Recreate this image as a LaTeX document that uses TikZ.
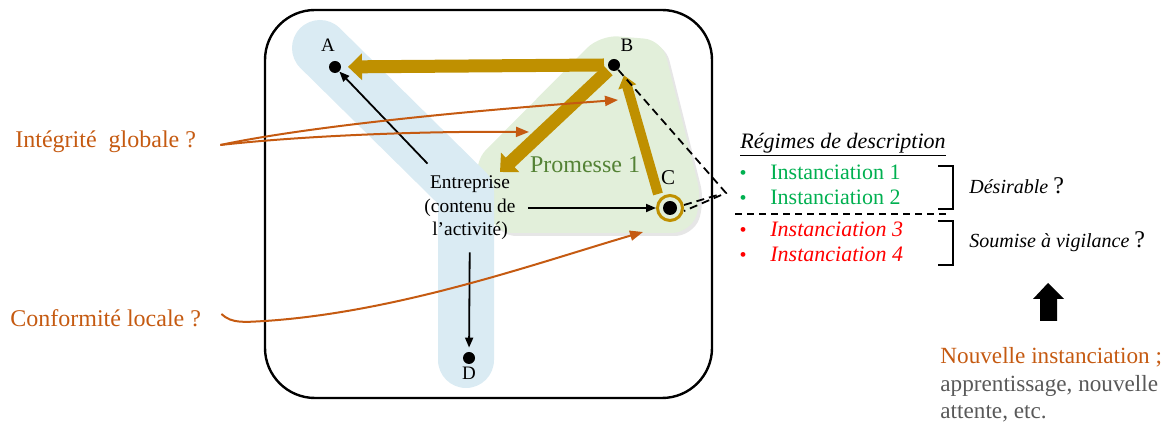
\documentclass[tikz,border=0pt]{standalone}
\usepackage{fontspec}
\setmainfont{Liberation Serif}
\usetikzlibrary{arrows.meta,positioning,shadows}
\definecolor{gold}{HTML}{BF9000}
\definecolor{rust}{HTML}{C55A11}
\definecolor{bandblue}{HTML}{DAEBF3}
\definecolor{promfill}{HTML}{E2EFDA}
\definecolor{promtext}{HTML}{548235}
\definecolor{instgreen}{HTML}{00B050}
\definecolor{instred}{HTML}{FF0000}
\definecolor{notegray}{HTML}{595959}
\tikzset{
  dot/.style={circle, fill=black, inner sep=0pt, minimum size=6pt},
  ring/.style={circle, draw=gold, line width=1.5pt, inner sep=0pt, minimum size=12.5pt},
  ptlabel/.style={font=\fontsize{9.5}{11}\selectfont, inner sep=1pt},
  entbox/.style={align=center, font=\fontsize{9.7}{11.75}\selectfont, inner sep=6pt},
  asklabel/.style={text=rust, font=\fontsize{12}{14}\selectfont, inner sep=2pt, anchor=west},
  regime/.style={font=\fontsize{11}{13}\selectfont, inner sep=1pt, anchor=west},
  bulletmark/.style={font=\fontsize{10}{12}\selectfont, inner sep=1pt, yshift=-1.5pt},
  judgement/.style={font=\fontsize{10}{12}\selectfont\itshape, inner sep=1pt, anchor=west},
  goldarrow/.style={draw=gold, line width=6.5pt, -{Triangle[length=7pt,width=13pt]}},
  goldthin/.style={draw=gold, line width=5pt, -{Triangle[length=6pt,width=9pt]}},
  blackarrow/.style={draw=black, line width=0.9pt, -{Triangle[length=5pt,width=4pt]}},
  askarrow/.style={draw=rust, line width=1pt, -{Triangle[length=6.5pt,width=5pt]}},
  dashlink/.style={draw=black, line width=0.9pt, dash pattern=on 4pt off 2.5pt},
  sepline/.style={draw=black, line width=1.2pt, dash pattern=on 3.5pt off 2.5pt},
  bracket/.style={draw=black, line width=1pt}
}

\begin{document}
\begin{tikzpicture}[x=0.5pt, y=-0.5pt]
  \useasboundingbox (0,0) rectangle (1168,426);

  % frame and zones
  \draw[line width=1.2pt, rounded corners=25pt] (265,10) rectangle (712,398);
  \fill[promfill, rounded corners=9pt, drop shadow={opacity=0.2, shadow xshift=1.5pt, shadow yshift=-1.5pt}]
    (473,163) -- (600,35) -- (662,40) -- (702,200) -- (690,233) -- (495,233) -- cycle;
  \draw[bandblue, line width=28pt, line cap=round, line join=round] (320,48) -- (466,192) -- (466,360);

  % points
  \coordinate (Apos) at (335,67);
  \coordinate (Bpos) at (614,65);
  \coordinate (enttip) at (500,172);
  \node[entbox] (ent) at (470,208) {Entreprise\\(contenu de\\l’activité)};
  \node[text=promtext, font=\fontsize{12}{14}\selectfont] (prom) at (585,165) {Promesse 1};

  % promise arrows
  \draw[goldarrow, shorten <=-0pt, shorten >=6.5pt] ([xshift=-5pt]Bpos) -- (Apos);
  \draw[goldarrow, shorten <=4pt] (Bpos) -- (enttip);

  \node[dot] (A) at (Apos) {};
  \node[dot] (B) at (Bpos) {};
  \node[ring] (C) at (670,208) {};
  \node[dot, minimum size=7pt] (Cdot) at (C) {};
  \node[dot] (D) at (469,358) {};
  \node[ptlabel] (labA) at (328,45) {A};
  \node[ptlabel] (labB) at (627,45) {B};
  \node[ptlabel, font=\fontsize{10.5}{12}\selectfont] (labC) at (668,178) {C};
  \node[ptlabel] (labD) at (469,373) {D};

  \draw[goldthin] ([xshift=-6pt]C.north) -- ([xshift=5pt,yshift=-2pt]B.south);

  \draw[blackarrow] (ent) -- (A);
  \draw[blackarrow] (ent) -- (C);
  \draw[blackarrow, shorten >=2pt] (ent) -- (D);

  % questions
  \node[asklabel] (integ) at (11,142) {Intégrité\ \ globale ?};
  \node[asklabel] (conf) at (6,318) {Conformité locale ?};
  \coordinate (uptip) at (618,100);
  \coordinate (midtip) at (529,132);
  \coordinate (ctip) at (643,232);
  \draw[askarrow] ([xshift=10pt,yshift=-1.5pt]integ.east) .. controls (300,128) and (450,112) .. (uptip);
  \draw[askarrow] ([xshift=10pt,yshift=-1.5pt]integ.east) .. controls (300,136) and (420,131) .. (midtip);
  \draw[askarrow] ([xshift=8pt,yshift=2pt]conf.east) .. controls (232,324) and (245,322) .. (265,321)
    .. controls (400,312) and (540,262) .. (ctip);

  % link to the regimes
  \coordinate (calltip) at (726,193);
  \draw[dashlink] (B) -- (calltip) -- ([yshift=-1.5pt]C.east);
  \draw[dashlink] ([yshift=1.5pt]C.east) -- (721,194);

  % regimes de description
  \node[regime, font=\fontsize{11}{13}\selectfont\itshape] (regtitle) at (738,145) {\underline{Régimes de description}};
  \node[regime, text=instgreen] (inst1) at (768,172) {Instanciation 1};
  \node[regime, text=instgreen] (inst2) at (768,197) {Instanciation 2};
  \node[regime, text=instred, font=\fontsize{11}{13}\selectfont\itshape] (inst3) at (768,229) {Instanciation 3};
  \node[regime, text=instred, font=\fontsize{11}{13}\selectfont\itshape] (inst4) at (768,254) {Instanciation 4};
  \node[bulletmark, text=instgreen, left=9.5pt of inst1] (dot1) {•};
  \node[bulletmark, text=instgreen, left=9.5pt of inst2] (dot2) {•};
  \node[bulletmark, text=instred, left=9.5pt of inst3] (dot3) {•};
  \node[bulletmark, text=instred, left=9.5pt of inst4] (dot4) {•};

  \coordinate (sepW) at (735,214);
  \coordinate (sepE) at (947,214);
  \draw[sepline] (sepW) -- (sepE);
  \draw[bracket] (938,166) -- (953,166) -- (953,209) -- (938,209);
  \draw[bracket] (938,221) -- (953,221) -- (953,265) -- (938,265);
  \node[judgement] (desir) at (967,186) {Désirable {\upshape\fontsize{12}{14}\selectfont ?}};
  \node[judgement] (vigil) at (967,242) {Soumise à vigilance {\upshape\fontsize{12}{14}\selectfont ?}};

  % nouvelle instanciation
  \fill (1048,283) -- (1064,299) -- (1057,299) -- (1057,321) -- (1040,321) -- (1040,299) -- (1033,299) -- cycle;
  \node[anchor=west, align=left, inner sep=1pt, text=notegray, font=\fontsize{11.6}{13.75}\selectfont] (newinst) at (938,385)
    {\textcolor{rust}{Nouvelle instanciation ;}\\apprentissage, nouvelle\\attente, etc.};
\end{tikzpicture}
\end{document}
